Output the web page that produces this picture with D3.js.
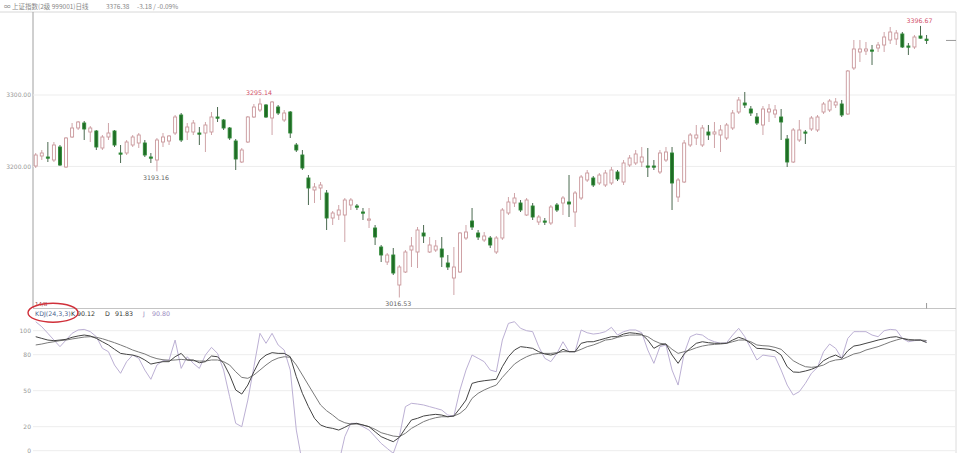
<!DOCTYPE html>
<html><head><meta charset="utf-8">
<script src="https://cdn.jsdelivr.net/npm/d3@7"></script>
<style>body{margin:0;background:#fff}svg{display:block;font-family:"DejaVu Sans",Arial,sans-serif}</style>
</head><body><svg id="c" width="957" height="453"></svg>
<script>
// ---- price data (daily candles) ----
const opens = [3200.6,3214.6,3213.2,3209.0,3227.2,3199.2,3241.2,3253.8,3260.8,3248.2,3249.6,3225.8,3241.2,3249.6,3218.8,3218.8,3230.0,3232.8,3232.8,3213.2,3209.0,3234.2,3235.6,3246.8,3272.0,3248.2,3248.2,3246.8,3246.8,3248.2,3269.2,3265.0,3253.8,3235.6,3206.2,3234.2,3269.2,3279.0,3286.0,3267.8,3283.2,3265.0,3276.2,3230.0,3216.0,3183.8,3167.0,3169.8,3162.8,3127.8,3132.0,3132.0,3146.0,3144.6,3136.2,3125.0,3113.8,3087.2,3066.2,3076.0,3034.0,3052.2,3083.0,3080.2,3106.8,3080.2,3083.0,3084.4,3064.8,3043.8,3052.2,3099.8,3123.6,3106.8,3097.0,3099.8,3080.2,3099.8,3134.8,3148.8,3148.8,3132.0,3144.6,3122.2,3123.6,3120.8,3146.0,3148.8,3150.2,3136.2,3155.8,3181.0,3183.8,3176.8,3174.0,3176.8,3192.2,3178.2,3202.0,3204.8,3206.2,3200.6,3200.6,3192.2,3209.0,3218.8,3157.2,3178.2,3230.0,3239.8,3230.0,3248.2,3245.4,3244.0,3239.8,3253.8,3276.2,3288.8,3280.4,3269.2,3258.0,3276.2,3273.4,3269.2,3238.4,3206.2,3237.0,3248.2,3252.4,3251.0,3276.2,3279.0,3286.0,3287.4,3273.4,3337.8,3360.2,3361.6,3363.0,3365.8,3370.0,3377.0,3378.4,3385.4,3368.6,3367.2,3382.6,3378.2];
const highs = [3218.8,3223.0,3234.2,3234.2,3230.0,3241.2,3260.8,3263.6,3263.6,3256.6,3251.0,3244.0,3260.8,3251.0,3230.0,3237.0,3244.0,3246.8,3237.0,3218.8,3239.8,3246.8,3244.0,3272.0,3274.8,3260.8,3265.0,3255.2,3262.2,3276.2,3283.2,3266.4,3255.2,3238.4,3225.8,3270.6,3287.4,3295.14,3287.4,3291.6,3286.0,3279.0,3277.6,3232.8,3223.0,3188.0,3176.8,3178.2,3167.0,3137.6,3146.0,3155.8,3155.8,3147.4,3141.8,3141.8,3118.0,3090.0,3078.8,3085.8,3062.0,3083.0,3101.2,3115.2,3118.0,3101.2,3097.0,3101.2,3076.0,3087.2,3108.2,3118.0,3141.8,3111.0,3108.2,3102.6,3102.6,3141.8,3157.2,3162.8,3153.0,3155.8,3148.8,3132.0,3127.8,3146.0,3148.8,3158.6,3188.0,3165.6,3188.0,3195.0,3186.6,3190.8,3195.0,3199.2,3195.0,3209.0,3216.0,3223.0,3227.2,3225.8,3209.0,3223.0,3227.2,3227.2,3183.8,3237.0,3246.8,3258.0,3258.0,3258.0,3262.2,3258.0,3260.8,3279.0,3297.2,3304.2,3284.6,3274.8,3284.6,3287.4,3286.0,3280.4,3244.0,3253.8,3265.0,3251.0,3270.6,3272.0,3290.2,3294.4,3295.8,3293.0,3335.0,3377.0,3377.0,3374.2,3370.0,3374.2,3388.2,3395.2,3391.0,3388.2,3372.8,3384.0,3396.67,3384.0];
const lows = [3197.8,3209.0,3206.2,3206.2,3200.6,3197.8,3239.8,3251.0,3237.0,3234.2,3223.0,3223.0,3237.0,3227.2,3204.8,3216.0,3227.2,3225.8,3213.2,3204.8,3193.16,3227.2,3230.0,3244.0,3234.2,3237.0,3244.0,3230.0,3220.2,3244.0,3262.2,3251.0,3237.0,3195.0,3204.8,3232.8,3267.8,3276.2,3267.8,3244.0,3272.0,3262.2,3239.8,3220.2,3195.0,3146.0,3148.8,3153.0,3111.0,3118.0,3125.0,3094.2,3139.0,3139.0,3125.0,3113.8,3090.0,3066.2,3062.0,3048.0,3016.53,3050.8,3059.2,3057.8,3092.8,3078.8,3080.2,3059.2,3055.0,3020.0,3050.8,3097.0,3111.0,3097.0,3094.2,3085.8,3077.4,3097.0,3132.0,3143.2,3136.2,3130.6,3125.0,3118.0,3118.0,3118.0,3136.2,3132.0,3129.2,3115.2,3153.0,3178.2,3171.2,3174.0,3171.2,3174.0,3179.6,3174.0,3199.2,3202.0,3199.2,3185.2,3195.0,3189.4,3206.2,3139.0,3150.2,3176.8,3227.2,3230.0,3227.2,3237.0,3225.8,3220.2,3237.0,3251.0,3273.4,3281.8,3270.6,3258.0,3244.0,3262.2,3267.8,3237.0,3199.2,3204.8,3234.2,3231.4,3249.6,3248.2,3273.4,3276.2,3281.8,3269.2,3272.0,3335.0,3346.2,3356.0,3342.0,3360.2,3360.2,3371.4,3370.0,3365.8,3356.0,3364.4,3379.0,3371.4];
const closes = [3216.0,3218.8,3211.8,3230.0,3202.0,3239.8,3253.8,3262.2,3252.4,3253.8,3227.2,3241.2,3246.8,3230.0,3217.4,3234.2,3241.2,3244.0,3216.0,3211.8,3237.0,3241.2,3242.6,3269.2,3237.0,3255.2,3260.8,3245.4,3258.0,3269.2,3267.8,3253.8,3239.8,3210.4,3223.0,3269.2,3283.2,3287.4,3269.2,3290.2,3274.8,3274.8,3246.8,3223.0,3197.8,3169.8,3171.2,3174.0,3127.8,3134.8,3139.0,3153.0,3153.0,3143.2,3134.8,3126.4,3101.2,3076.0,3076.0,3050.8,3059.2,3080.2,3088.6,3111.0,3102.6,3090.0,3088.6,3073.2,3059.2,3059.2,3106.8,3108.2,3115.2,3101.2,3102.6,3090.0,3099.8,3139.0,3150.2,3155.8,3139.0,3153.0,3129.2,3129.2,3122.2,3143.2,3139.0,3155.8,3147.4,3162.8,3185.2,3190.8,3174.0,3188.0,3190.8,3195.0,3182.4,3204.8,3211.8,3217.4,3213.2,3199.2,3199.2,3218.8,3220.2,3176.8,3181.0,3232.8,3244.0,3244.0,3253.8,3244.0,3248.2,3251.0,3258.0,3274.8,3293.0,3286.0,3274.8,3260.8,3280.4,3280.4,3279.0,3262.2,3206.2,3251.0,3251.0,3246.8,3267.8,3269.2,3287.4,3291.6,3290.2,3272.0,3333.6,3364.4,3364.4,3364.4,3361.6,3370.0,3381.2,3388.2,3386.8,3367.2,3367.2,3381.2,3379.56,3376.38];

// ---- KDJ(24,3,3) ----
const kVals = [95.0,93.6,92.2,91.7,92.2,92.8,94.5,95.6,96.4,95.6,93.6,90.8,88.1,84.5,81.1,80.3,79.7,78.3,75.6,72.2,73.3,74.2,74.2,78.3,81.1,75.6,75.6,73.3,74.2,78.9,78.3,72.8,63.1,50.6,47.2,54.7,65.8,75.6,79.7,81.7,81.1,81.1,78.3,61.7,47.8,36.7,27.0,21.4,19.5,18.6,17.2,19.5,22.2,22.8,21.4,20.0,15.8,11.7,9.5,7.5,11.1,18.6,25.6,27.0,28.9,29.7,30.3,29.7,28.3,28.9,35.3,42.2,56.1,57.5,58.3,58.9,59.5,70.0,78.3,83.9,86.7,86.1,85.3,82.5,80.6,79.7,81.1,84.5,82.5,82.5,89.5,90.8,90.8,92.2,93.6,95.0,95.0,97.2,98.3,97.8,97.0,92.2,85.3,88.1,88.9,79.7,72.8,80.6,85.3,89.5,90.8,90.0,89.5,89.5,89.5,92.2,94.5,92.8,89.5,85.3,85.0,84.5,83.3,79.7,70.0,65.6,65.3,66.4,67.8,70.0,75.0,77.8,79.7,77.0,83.3,87.2,88.1,89.5,90.8,92.2,93.3,94.5,95.0,93.6,92.2,92.2,92.2,90.12];
const dVals = [88.1,88.9,90.0,90.8,91.7,92.2,93.1,93.9,94.7,95.0,94.5,93.3,91.7,90.0,88.1,86.1,83.9,82.2,80.6,78.3,76.7,75.8,75.3,75.6,76.1,75.6,75.0,74.7,74.7,75.6,75.6,74.2,71.4,65.8,61.1,60.3,63.1,67.2,71.4,75.0,77.2,78.3,77.8,71.4,63.1,54.7,46.4,38.1,33.3,29.7,25.6,23.3,22.2,22.2,21.4,20.0,17.8,15.0,13.6,12.2,11.7,14.5,18.6,21.4,24.2,26.1,27.5,28.3,28.3,28.9,31.1,35.3,43.6,47.8,50.6,52.8,54.7,61.1,66.7,72.2,75.6,78.3,80.3,81.1,81.1,81.1,81.7,82.5,82.5,82.5,84.5,86.7,88.1,90.0,92.2,92.8,94.5,95.6,96.4,96.4,96.4,95.0,91.7,89.5,88.9,84.5,81.1,82.5,83.9,85.8,87.2,88.1,88.6,88.9,89.5,90.8,92.2,92.2,90.8,88.1,87.5,87.2,86.1,84.5,79.7,75.0,72.2,70.0,69.5,70.0,71.4,74.2,75.6,76.1,78.3,80.6,81.7,83.9,85.3,86.7,88.6,90.6,92.2,93.6,92.8,92.2,92.2,91.83];
const jVals = [107.5,103.3,97.8,92.2,86.7,92.2,97.8,100.6,101.1,99.2,95.0,85.3,82.5,71.4,64.5,74.2,79.7,77.0,67.2,59.5,71.4,75.0,75.6,92.2,68.6,78.3,72.8,68.6,79.7,86.1,81.1,67.2,45.0,22.8,20.0,42.2,70.0,97.8,89.5,97.8,88.1,83.9,67.2,17.2,-10.5,-32.8,-46.7,-46.7,-38.3,-32.8,-10.5,11.7,22.8,22.8,20.0,17.2,11.7,6.1,1.9,-2.2,11.7,36.7,39.5,38.9,38.1,36.7,35.3,33.9,29.7,28.9,50.6,67.2,79.7,77.0,74.2,67.2,65.8,92.2,106.1,107.5,102.0,100.0,99.2,86.7,77.0,74.2,81.1,90.8,82.5,82.5,100.6,98.3,97.2,97.8,99.2,102.8,96.4,99.2,100.6,100.6,98.3,83.9,72.8,86.7,88.1,67.2,54.7,81.1,95.0,97.2,96.4,92.8,90.8,89.5,90.0,96.4,102.0,95.0,85.3,75.6,79.7,78.9,78.3,67.2,54.7,46.4,49.2,56.1,64.5,69.5,82.5,88.9,85.3,77.0,93.6,99.2,99.2,99.2,96.4,95.0,100.0,101.1,100.6,93.6,90.8,91.7,92.2,90.80];

const priceTicks = [3200, 3300];
const kdjTicks = [0, 20, 50, 80, 100];
const extremes = [
  {i: 37, v: 3295.14, kind: "high"},
  {i: 146, v: 3396.67, kind: "high"},
  {i: 20, v: 3193.16, kind: "low"},
  {i: 60, v: 3016.53, kind: "low"}
];
const titleParts = ["\u221E 上证指数(2级 999001)日线", "3376.38", "-3.18 / -0.09%"];
const legendParts = [
  {t: "KDJ(24,3,3)", c: "#4d6690"},
  {t: "K", c: "#333"}, {t: "90.12", c: "#333"},
  {t: "D", c: "#333"}, {t: "91.83", c: "#333"},
  {t: "J", c: "#9a88c0"}, {t: "90.80", c: "#9a88c0"}
];

const svg = d3.select("#c");
const N = closes.length;
const idx = d3.range(N);
const L = 33, R = 956;
const x = d3.scaleBand().domain(idx).range([32.7, 929.6]).paddingInner(0.34).paddingOuter(0.17);
const y = d3.scaleLinear().domain([3300, 3200]).range([95, 166.43]);
const yk = d3.scaleLinear().domain([0, 100]).range([450.7, 330.7]);
const cx = i => x(i) + x.bandwidth() / 2;

// frame
svg.append("line").attr("x1", 0).attr("x2", R).attr("y1", 12).attr("y2", 12).attr("stroke", "#d8d8d8");
svg.append("line").attr("x1", L).attr("x2", L).attr("y1", 12).attr("y2", 308).attr("stroke", "#a0a0a0");
svg.append("line").attr("x1", R).attr("x2", R).attr("y1", 12).attr("y2", 453).attr("stroke", "#dcdcdc");
svg.append("line").attr("x1", L).attr("x2", R).attr("y1", 308.5).attr("y2", 308.5).attr("stroke", "#c4c4c4");

// price grid + axis
svg.append("g").selectAll("line").data(priceTicks).join("line")
  .attr("x1", L).attr("x2", R).attr("y1", d => y(d)).attr("y2", d => y(d)).attr("stroke", "#ededed");
const ya = svg.append("g").attr("transform", `translate(${L},0)`)
  .call(d3.axisLeft(y).tickValues(priceTicks).tickFormat(d3.format(".2f")).tickSize(0).tickPadding(2));
ya.select(".domain").remove();
ya.selectAll("text").attr("font-size", 6).attr("fill", "#999").attr("font-family", "DejaVu Sans");

// KDJ grid + axis
svg.append("g").selectAll("line").data(kdjTicks).join("line")
  .attr("x1", L).attr("x2", R).attr("y1", d => yk(d)).attr("y2", d => yk(d)).attr("stroke", "#ededed");
const ka = svg.append("g").attr("transform", `translate(${L},0)`)
  .call(d3.axisLeft(yk).tickValues(kdjTicks).tickSize(0).tickPadding(2));
ka.select(".domain").remove();
ka.selectAll("text").attr("font-size", 6).attr("fill", "#999").attr("font-family", "DejaVu Sans");

// candles
const up = i => closes[i] >= opens[i];
const g = svg.append("g");
g.selectAll("line").data(idx).join("line")
  .attr("x1", i => cx(i)).attr("x2", i => cx(i))
  .attr("y1", i => y(highs[i])).attr("y2", i => y(lows[i]))
  .attr("stroke", i => up(i) ? "#cfa4a8" : "#4b6a50").attr("stroke-width", 1);
g.selectAll("rect").data(idx).join("rect")
  .attr("x", i => x(i) + 0.5).attr("width", x.bandwidth() - 1)
  .attr("y", i => y(Math.max(opens[i], closes[i])))
  .attr("height", i => Math.max(1.2, y(Math.min(opens[i], closes[i])) - y(Math.max(opens[i], closes[i]))))
  .attr("fill", i => up(i) ? "#fff" : "#1f6b25")
  .attr("stroke", i => up(i) ? "#c9979b" : "#2e8a36").attr("stroke-width", 0.9);

// extreme labels
svg.append("g").selectAll("text").data(extremes).join("text")
  .attr("x", d => cx(d.i) - 1).attr("y", d => d.kind === "high" ? y(d.v) - 3 : y(d.v) + 9)
  .attr("text-anchor", "middle").attr("font-size", 6.3)
  .attr("fill", d => d.kind === "high" ? "#d2506a" : "#666")
  .text(d => d3.format(".2f")(d.v));

// last price marker
svg.append("line").attr("x1", 946).attr("x2", R).attr("y1", y(closes[N - 1])).attr("y2", y(closes[N - 1])).attr("stroke", "#999");
svg.append("line").attr("x1", cx(N - 1)).attr("x2", cx(N - 1)).attr("y1", 303).attr("y2", 308.5).attr("stroke", "#999");

// KDJ lines
svg.append("clipPath").attr("id", "kc").append("rect").attr("x", L).attr("y", 309).attr("width", R - L).attr("height", 144);
const kg = svg.append("g").attr("clip-path", "url(#kc)");
const mk = arr => d3.line().x((d, i) => cx(i)).y(d => yk(d))(arr);
kg.append("path").attr("d", mk(jVals)).attr("fill", "none").attr("stroke", "#bcb0d4").attr("stroke-width", 1);
kg.append("path").attr("d", mk(dVals)).attr("fill", "none").attr("stroke", "#7a7a7a").attr("stroke-width", 1);
kg.append("path").attr("d", mk(kVals)).attr("fill", "none").attr("stroke", "#444").attr("stroke-width", 1);

// title
const tt = svg.append("text").attr("x", 4).attr("y", 8.5).attr("font-size", 6.5).attr("fill", "#888")
  .attr("font-family", "Noto Sans CJK SC, DejaVu Sans");
tt.append("tspan").text(titleParts[0]);
tt.append("tspan").attr("x", 106).text(titleParts[1]);
tt.append("tspan").attr("x", 137).text(titleParts[2]);

// KDJ legend
const lx = [35, 71, 77, 105, 115, 143, 152];
svg.append("g").selectAll("text").data(legendParts).join("text")
  .attr("x", (d, i) => lx[i]).attr("y", 315.5).attr("font-size", 6.3).attr("fill", d => d.c).text(d => d.t);
svg.append("text").attr("x", 35).attr("y", 305.5).attr("font-size", 5.5).attr("fill", "#a04040").text("14/8");
svg.append("ellipse").attr("cx", 53).attr("cy", 312.7).attr("rx", 25).attr("ry", 9.5)
  .attr("fill", "none").attr("stroke", "#d0303a").attr("stroke-width", 1.4);
</script></body></html>
